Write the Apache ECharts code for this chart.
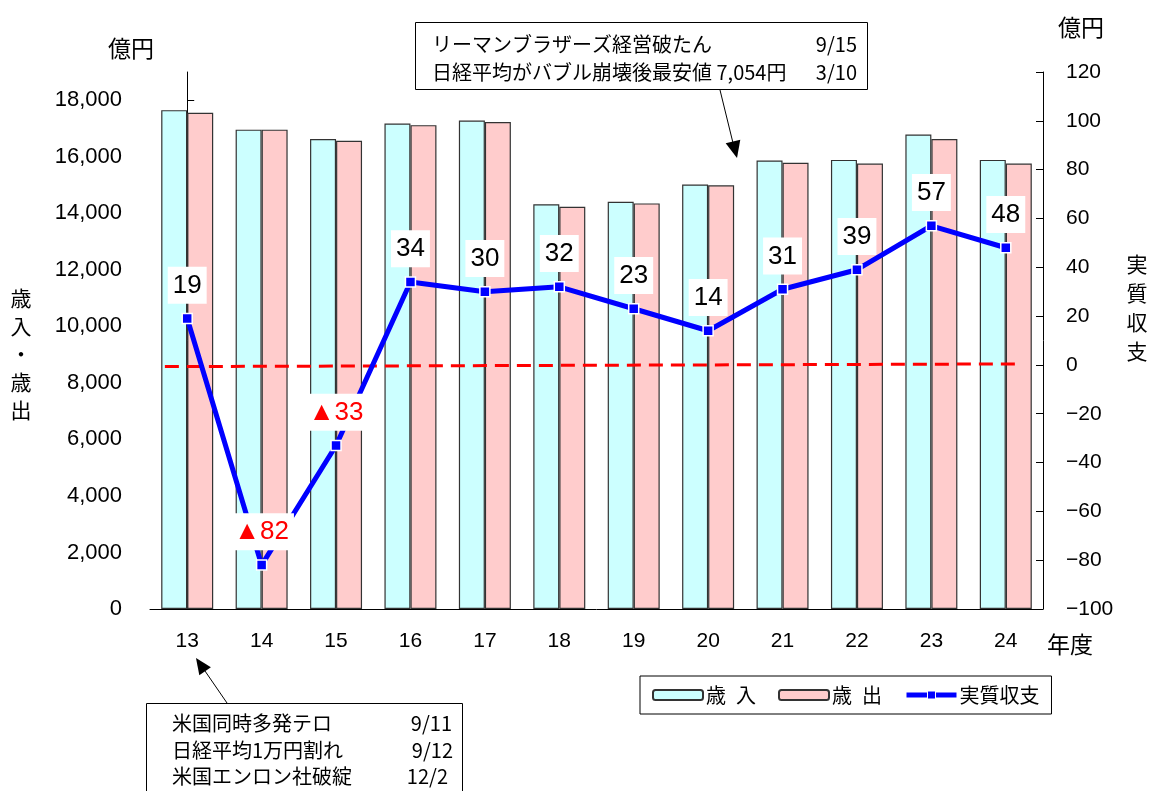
<!DOCTYPE html>
<html>
<head>
<meta charset="utf-8">
<script src="https://cdn.jsdelivr.net/npm/echarts@6/dist/echarts.min.js"></script>
<style>
  html, body { margin: 0; padding: 0; background: #fff; }
  #chart { width: 1149px; height: 791px; }
</style>
</head>
<body>
<div id="chart"></div>
<script>
// 年度 (平成)
const years = ['13', '14', '15', '16', '17', '18', '19', '20', '21', '22', '23', '24'];
// 歳入・歳出 (億円)
const revenue = [17650, 16960, 16630, 17180, 17280, 14320, 14410, 15020, 15870, 15890, 16790, 15890];
const expenditure = [17560, 16960, 16570, 17120, 17230, 14230, 14350, 14990, 15790, 15760, 16630, 15760];
// 実質収支 (億円)
const balance = [19, -82, -33, 34, 30, 32, 23, 14, 31, 39, 57, 48];
// 実質収支ゼロ基準線 [位置, 値]
const zeroLine = [[-0.3, -0.7], [11.13, 0.4]];
// 左軸の目盛
const leftTicks = [0, 2000, 4000, 6000, 8000, 10000, 12000, 14000, 16000, 18000];

const JP = '"Noto Sans CJK JP", sans-serif';
const NUM = '"Liberation Sans", Arial, sans-serif';
const NARROW = '"Liberation Sans Narrow", "Liberation Sans", sans-serif';

const chart = echarts.init(document.getElementById('chart'));

function annotationText(x, y, text, align, size) {
  return {
    type: 'text', x: x, y: y, z: 100,
    style: { text: text, font: (size || 20) + 'px ' + JP, fill: '#000', textAlign: align || 'left', textVerticalAlign: 'middle' }
  };
}

const graphic = [
  // 軸見出し
  annotationText(108, 48, '億円', 'left', 23),
  annotationText(1058, 27, '億円', 'left', 23),
  annotationText(1047, 644, '年度', 'left', 23),
  {
    type: 'text', x: 21, y: 354, z: 100,
    style: { text: '歳\n入\n・\n歳\n出', font: '21px ' + JP, lineHeight: 28, fill: '#000', textAlign: 'center', textVerticalAlign: 'middle' }
  },
  {
    type: 'text', x: 1137, y: 308, z: 100,
    style: { text: '実\n質\n収\n支', font: '21px ' + JP, lineHeight: 29, fill: '#000', textAlign: 'center', textVerticalAlign: 'middle' }
  },
  // 上部の注記
  { type: 'rect', z: 90, shape: { x: 415.5, y: 22.5, width: 452, height: 67 }, style: { fill: '#fff', stroke: '#000', lineWidth: 1 } },
  annotationText(432, 44, 'リーマンブラザーズ経営破たん'),
  annotationText(857, 44, '9/15', 'right'),
  annotationText(432, 72, '日経平均がバブル崩壊後最安値 7,054円'),
  annotationText(857, 72, '3/10', 'right'),
  { type: 'line', z: 90, shape: { x1: 720, y1: 90, x2: 733, y2: 143 }, style: { stroke: '#000', lineWidth: 1 } },
  { type: 'polygon', z: 90, shape: { points: [[737, 158], [740.3, 139.7], [725.7, 143.3]] }, style: { fill: '#000' } },
  // 下部の注記
  { type: 'rect', z: 90, shape: { x: 146.5, y: 703.5, width: 316, height: 110 }, style: { fill: '#fff', stroke: '#000', lineWidth: 1 } },
  annotationText(172, 723, '米国同時多発テロ'),
  annotationText(452, 723, '9/11', 'right'),
  annotationText(172, 750, '日経平均1万円割れ'),
  annotationText(453, 750, '9/12', 'right'),
  annotationText(172, 776, '米国エンロン社破綻'),
  annotationText(448, 776, '12/2', 'right'),
  { type: 'line', z: 90, shape: { x1: 227, y1: 703, x2: 205, y2: 671 }, style: { stroke: '#000', lineWidth: 1 } },
  { type: 'polygon', z: 90, shape: { points: [[196, 658], [199.3, 675.2], [210.9, 667.2]] }, style: { fill: '#000' } }
];

const option = {
  backgroundColor: '#fff',
  animation: false,
  grid: { left: 150, right: 106, top: 72, bottom: 182, containLabel: false },
  legend: {
    left: 640, top: 676,
    width: 413,
    padding: [9, 12, 9, 12],
    borderColor: '#000', borderWidth: 1,
    backgroundColor: '#fff',
    itemWidth: 50, itemHeight: 10, itemGap: 22,
    textStyle: { fontFamily: JP, fontSize: 20, color: '#000', padding: [0, 0, 0, -2] },
    data: [
      { name: '歳\u2002入' },
      { name: '歳\u2002出' },
      { name: '実質収支', lineStyle: { width: 5 }, itemStyle: { borderWidth: 1 } }
    ]
  },
  xAxis: [
    {
      type: 'category', data: years, boundaryGap: true,
      axisLine: { lineStyle: { color: '#000', width: 1 } },
      axisTick: { show: false },
      axisLabel: { color: '#000', fontFamily: NUM, fontSize: 21, margin: 22 },
      splitLine: { show: false }
    },
    { type: 'value', min: -0.5, max: 11.5, show: false }
  ],
  yAxis: [
    {
      type: 'value', min: 0, max: 19000, interval: 2000,
      axisLine: { show: true, lineStyle: { color: '#000', width: 1 } },
      axisTick: { show: true, inside: true, length: 7, customValues: leftTicks, lineStyle: { color: '#000' } },
      axisLabel: {
        color: '#000', fontFamily: NUM, fontSize: 22, margin: 28, customValues: leftTicks,
        formatter: v => v.toLocaleString('en-US')
      },
      splitLine: { show: false }
    },
    {
      type: 'value', min: -100, max: 120, interval: 20, position: 'right',
      axisLine: { show: true, lineStyle: { color: '#000', width: 1 } },
      axisTick: { show: true, inside: true, length: 7, lineStyle: { color: '#000' } },
      axisLabel: {
        color: '#000', fontFamily: NUM, fontSize: 21, margin: 23,
        formatter: v => String(v).replace('-', '\u2212')
      },
      splitLine: { show: false }
    }
  ],
  series: [
    {
      name: '歳\u2002入', type: 'bar', data: revenue, yAxisIndex: 0,
      barWidth: 26, barGap: '0%',
      itemStyle: { color: '#CCFFFF', borderColor: '#333', borderWidth: 1.2 },
      z: 2
    },
    {
      name: '歳\u2002出', type: 'bar', data: expenditure, yAxisIndex: 0,
      barWidth: 26, barGap: '0%',
      itemStyle: { color: '#FFCCCC', borderColor: '#333', borderWidth: 1.2 },
      z: 2
    },
    {
      name: 'zero', type: 'line', data: zeroLine, xAxisIndex: 1, yAxisIndex: 1,
      symbol: 'none', silent: true,
      lineStyle: { color: '#FF0000', width: 3, type: [14, 8] },
      z: 3
    },
    {
      name: '実質収支', type: 'line', data: balance, yAxisIndex: 1,
      symbol: 'rect', symbolSize: 10,
      itemStyle: { color: '#0000FF', borderColor: '#fff', borderWidth: 1.5 },
      lineStyle: { color: '#0000FF', width: 5 },
      label: {
        show: true, position: 'top', distance: 9,
        backgroundColor: '#fff', padding: [4, 5, 3, 5],
        formatter: p => p.value < 0 ? '{neg|▲' + Math.abs(p.value) + '}' : '{pos|' + p.value + '}',
        rich: {
          pos: { fontFamily: NARROW, fontSize: 26, color: '#000', lineHeight: 30 },
          neg: { fontFamily: NARROW, fontSize: 26, color: '#FF0000', lineHeight: 30 }
        }
      },
      z: 5
    }
  ],
  graphic: graphic
};

chart.setOption(option);
</script>
</body>
</html>
